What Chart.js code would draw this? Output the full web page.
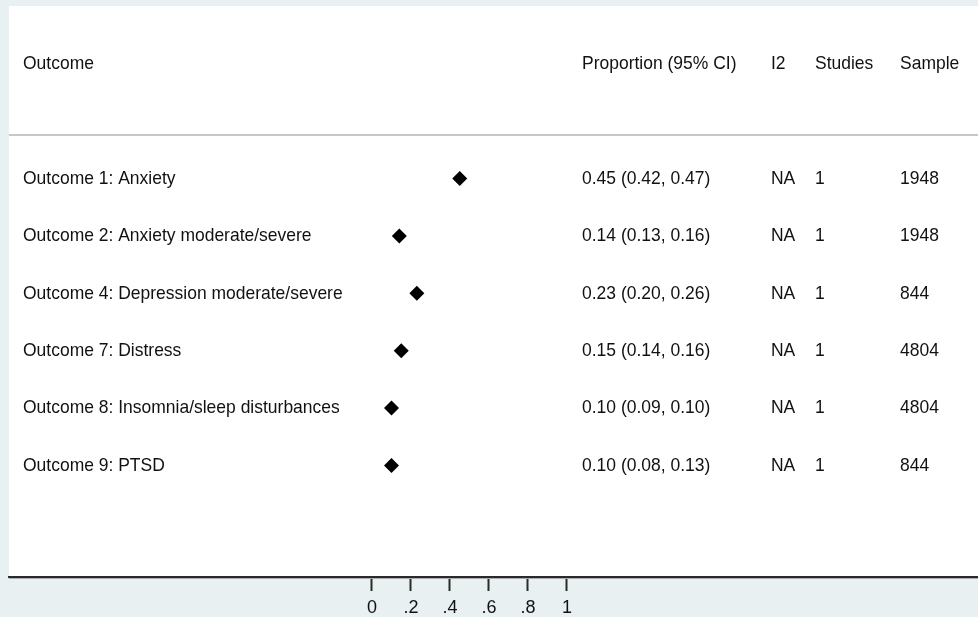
<!DOCTYPE html>
<html>
<head>
<meta charset="utf-8">
<script src="https://cdn.jsdelivr.net/npm/chart.js@4.4.1/dist/chart.umd.min.js"></script>
<style>
  html, body { margin: 0; padding: 0; background: #e9f0f2; }
  #wrap { width: 978px; height: 617px; }
</style>
</head>
<body>
<div id="wrap"><canvas id="forest" width="978" height="617"></canvas></div>
<script>
// Forest plot: pooled proportions per outcome
const outcomes = [
  'Outcome 1: Anxiety',
  'Outcome 2: Anxiety moderate/severe',
  'Outcome 4: Depression moderate/severe',
  'Outcome 7: Distress',
  'Outcome 8: Insomnia/sleep disturbances',
  'Outcome 9: PTSD'
];
const proportion = [0.45, 0.14, 0.23, 0.15, 0.10, 0.10];
const ciLower    = [0.42, 0.13, 0.20, 0.14, 0.09, 0.08];
const ciUpper    = [0.47, 0.16, 0.26, 0.16, 0.10, 0.13];
const i2Values   = ['NA', 'NA', 'NA', 'NA', 'NA', 'NA'];
const studies    = [1, 1, 1, 1, 1, 1];
const sampleSize = [1948, 1948, 844, 4804, 4804, 844];

const headers = ['Outcome', 'Proportion (95% CI)', 'I2', 'Studies', 'Sample'];
const xTicks = [0, 0.2, 0.4, 0.6, 0.8, 1];
const xTickLabels = ['0', '.2', '.4', '.6', '.8', '1'];

const FONT = '"Liberation Sans", Arial, sans-serif';
const TEXT_SIZE = 19;
const TEXT_SX = 0.92;
const TEXT_COLOR = '#111111';

function drawText(ctx, str, x, y) {
  ctx.save();
  ctx.translate(x, y);
  ctx.scale(TEXT_SX, 1);
  ctx.fillText(str, 0, 0);
  ctx.restore();
}

const tablePlugin = {
  id: 'forestTable',
  beforeDraw(chart) {
    const { ctx, chartArea: a, width, height } = chart;
    ctx.save();
    ctx.fillStyle = '#e9f0f2';
    ctx.fillRect(0, 0, width, height);
    ctx.fillStyle = '#ffffff';
    ctx.fillRect(a.left, a.top, a.right - a.left, a.bottom - a.top);
    ctx.restore();
  },
  afterDraw(chart) {
    const { ctx, chartArea: a } = chart;
    const y = chart.scales.y;
    const cols = [23, 582, 771, 815, 900];
    ctx.save();
    // header separator
    ctx.strokeStyle = '#c8c8c8';
    ctx.lineWidth = 2;
    const ly = Math.round(y.getPixelForValue(0.24));
    ctx.beginPath();
    ctx.moveTo(a.left, ly);
    ctx.lineTo(a.right, ly);
    ctx.stroke();
    // soft edge under the axis line
    ctx.strokeStyle = '#a8acad';
    ctx.lineWidth = 1;
    ctx.beginPath();
    ctx.moveTo(a.left, a.bottom + 1.5);
    ctx.lineTo(a.right, a.bottom + 1.5);
    ctx.stroke();

    ctx.fillStyle = TEXT_COLOR;
    ctx.font = TEXT_SIZE + 'px ' + FONT;
    ctx.textBaseline = 'middle';
    ctx.textAlign = 'left';
    const hy = y.getPixelForValue(-1);
    headers.forEach((h, i) => drawText(ctx, h, cols[i], hy));

    outcomes.forEach((name, i) => {
      const ry = y.getPixelForValue(i + 1);
      const ci = proportion[i].toFixed(2) + ' (' + ciLower[i].toFixed(2) + ', ' + ciUpper[i].toFixed(2) + ')';
      drawText(ctx, name, cols[0], ry);
      drawText(ctx, ci, cols[1], ry);
      drawText(ctx, i2Values[i], cols[2], ry);
      drawText(ctx, String(studies[i]), cols[3], ry);
      drawText(ctx, String(sampleSize[i]), cols[4], ry);
    });
    ctx.restore();
  }
};

new Chart(document.getElementById('forest'), {
  type: 'scatter',
  data: {
    datasets: [{
      data: proportion.map((p, i) => ({ x: p, y: i + 1 })),
      pointStyle: 'rectRot',
      pointRadius: 7.5,
      pointHoverRadius: 7.5,
      backgroundColor: '#000000',
      borderColor: '#000000',
      borderWidth: 0
    }]
  },
  options: {
    responsive: false,
    animation: false,
    devicePixelRatio: 1,
    layout: { autoPadding: false, padding: { left: 9, right: 0, top: 6, bottom: 0 } },
    plugins: { legend: { display: false }, tooltip: { enabled: false } },
    scales: {
      x: {
        type: 'linear',
        position: 'bottom',
        min: -1.8615,
        max: 3.1077,
        afterBuildTicks: (scale) => { scale.ticks = xTicks.map(v => ({ value: v })); },
        afterFit: (scale) => {
          scale.height = 40;
          scale.paddingLeft = 0;
          scale.paddingRight = 0;
        },
        ticks: {
          autoSkip: false,
          maxRotation: 0,
          padding: 6,
          color: TEXT_COLOR,
          font: { family: FONT, size: 18 },
          callback: (v, i) => xTickLabels[i]
        },
        grid: {
          display: true,
          drawOnChartArea: false,
          drawTicks: true,
          tickLength: 14,
          tickWidth: 2,
          tickColor: '#2a2a2a'
        },
        border: { display: true, color: '#2a2a2a', width: 2 }
      },
      y: {
        type: 'linear',
        display: false,
        reverse: true,
        min: -2.006,
        max: 7.944
      }
    }
  },
  plugins: [tablePlugin]
});
</script>
</body>
</html>
